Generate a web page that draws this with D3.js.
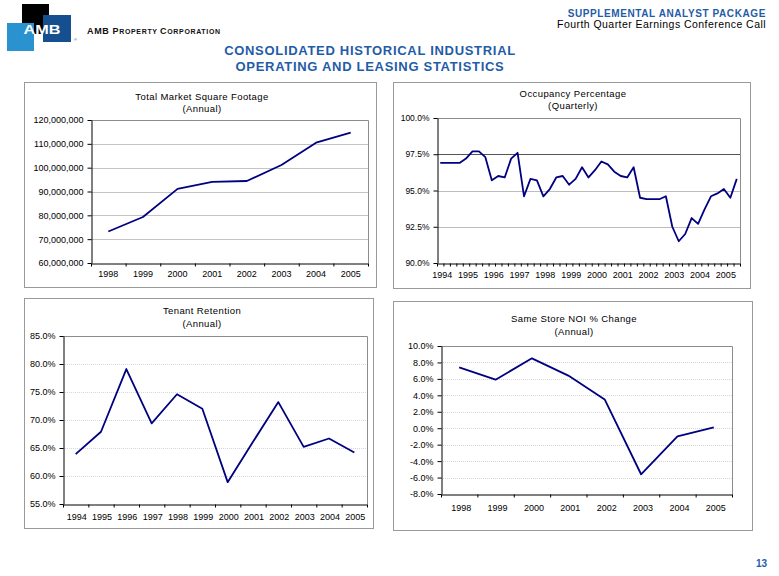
<!DOCTYPE html>
<html>
<head>
<meta charset="utf-8">
<style>
  body { margin: 0; background: #fff; }
  svg { display: block; font-family: "Liberation Sans", Arial, sans-serif; }
</style>
</head>
<body>
<svg width="779" height="576"></svg>
<script src="https://d3js.org/d3.v7.min.js"></script>
<script>

// ---- data ----
var sqftYears = ["1998", "1999", "2000", "2001", "2002", "2003", "2004", "2005"];
var sqftValues = [73200000, 79300000, 91100000, 94000000, 94400000, 101100000, 110500000, 114700000];
var sqftTicks = [60000000, 70000000, 80000000, 90000000, 100000000, 110000000, 120000000];

// quarterly, one label every four quarters
var occYears = ["1994", "1995", "1996", "1997", "1998", "1999", "2000", "2001", "2002", "2003", "2004", "2005"];
var occValues = [96.9, 96.9, 96.9, 96.9, 97.2, 97.7, 97.7, 97.3, 95.7, 96.0, 95.9, 97.2,
                 97.6, 94.6, 95.8, 95.7, 94.6, 95.1, 95.9, 96.0, 95.4, 95.8, 96.6, 95.9,
                 96.4, 97.0, 96.8, 96.3, 96.0, 95.9, 96.6, 94.5, 94.4, 94.4, 94.4, 94.6,
                 92.5, 91.5, 92.0, 93.1, 92.7, 93.7, 94.6, 94.8, 95.1, 94.5, 95.8];
var occTicks = [90, 92.5, 95, 97.5, 100];

var retYears = ["1994", "1995", "1996", "1997", "1998", "1999", "2000", "2001", "2002", "2003", "2004", "2005"];
var retValues = [63.9, 67.9, 79.1, 69.4, 74.6, 72.0, 58.9, 66.1, 73.2, 65.2, 66.7, 64.2];
var retTicks = [55, 60, 65, 70, 75, 80, 85];

var noiYears = ["1998", "1999", "2000", "2001", "2002", "2003", "2004", "2005"];
var noiValues = [7.4, 5.9, 8.5, 6.4, 3.5, -5.6, -1.0, 0.1];
var noiTicks = [-8, -6, -4, -2, 0, 2, 4, 6, 8, 10];

var svg = d3.select("svg");
var blue = "#1f5ca8";
var navy = "#000080";

var pct = function(d) { return d.toFixed(1) + "%"; };

// ---- header ----
svg.append("rect").attr("x", 22).attr("y", 4).attr("width", 27).attr("height", 30).attr("fill", "#000");
svg.append("rect").attr("x", 7).attr("y", 23).attr("width", 27).attr("height", 28).attr("fill", "#2a93cf");
svg.append("rect").attr("x", 43).attr("y", 15).attr("width", 28).attr("height", 27).attr("fill", "#154f8f");
svg.append("text").attr("x", 23.5).attr("y", 33.5).attr("fill", "#fff")
    .attr("font-size", 12).attr("font-weight", "bold")
    .attr("textLength", 37).attr("lengthAdjust", "spacingAndGlyphs").text("AMB");
svg.append("text").attr("x", 74).attr("y", 41).attr("fill", "#154f8f")
    .attr("font-size", 4).text("®");

var corp = svg.append("text").attr("x", 87).attr("y", 34).attr("font-weight", "bold")
    .attr("fill", "#111").attr("letter-spacing", 0.65);
corp.append("tspan").attr("font-size", 9).text("AMB P");
corp.append("tspan").attr("font-size", 7).text("ROPERTY ");
corp.append("tspan").attr("font-size", 9).text("C");
corp.append("tspan").attr("font-size", 7).text("ORPORATION");

svg.append("text").attr("x", 766).attr("y", 16.5).attr("text-anchor", "end")
    .attr("fill", blue).attr("font-size", 10).attr("font-weight", "bold").attr("letter-spacing", 0.6)
    .text("SUPPLEMENTAL ANALYST PACKAGE");
svg.append("text").attr("x", 766).attr("y", 27.5).attr("text-anchor", "end")
    .attr("fill", "#000").attr("font-size", 10.5).attr("letter-spacing", 0.45)
    .text("Fourth Quarter Earnings Conference Call");

svg.append("text").attr("x", 370).attr("y", 54.5).attr("text-anchor", "middle")
    .attr("fill", blue).attr("font-size", 13).attr("font-weight", "bold").attr("letter-spacing", 0.7)
    .text("CONSOLIDATED HISTORICAL INDUSTRIAL");
svg.append("text").attr("x", 370).attr("y", 70.5).attr("text-anchor", "middle")
    .attr("fill", blue).attr("font-size", 13).attr("font-weight", "bold").attr("letter-spacing", 0.7)
    .text("OPERATING AND LEASING STATISTICS");

svg.append("text").attr("x", 767).attr("y", 566.5).attr("text-anchor", "end")
    .attr("fill", blue).attr("font-size", 10).attr("font-weight", "bold").text("13");

// ---- one chart panel ----
function drawChart(o) {
  var g = svg.append("g");

  g.append("rect")
      .attr("x", o.box[0] + 0.5).attr("y", o.box[1] + 0.5)
      .attr("width", o.box[2] - o.box[0]).attr("height", o.box[3] - o.box[1])
      .attr("fill", "none").attr("stroke", "#9a9a9a");

  g.append("text").attr("x", o.titleX).attr("y", o.titleY).attr("text-anchor", "middle")
      .attr("font-size", 9.5).attr("letter-spacing", 0.4).text(o.title);
  g.append("text").attr("x", o.titleX).attr("y", o.titleY + 12.5).attr("text-anchor", "middle")
      .attr("font-size", 9.5).attr("letter-spacing", 0.4).text(o.sub);

  var n = o.values.length;
  var x = d3.scaleBand().domain(d3.range(n)).range([o.left, o.right]).padding(0);
  var xb = d3.scaleLinear().domain([0, n]).range([o.left, o.right]);
  var y = d3.scaleLinear().domain([o.ticks[0], o.ticks[o.ticks.length - 1]]).range([o.bottom, o.top]);

  // gridlines
  g.selectAll(".grid")
    .data(o.ticks.slice(1, -1))
    .enter().append("line")
      .attr("x1", o.left).attr("x2", o.right)
      .attr("y1", function(d) { return Math.round(y(d)) + 0.5; })
      .attr("y2", function(d) { return Math.round(y(d)) + 0.5; })
      .attr("stroke", function(d) { return o.gridColor(d); })
      .attr("stroke-dasharray", o.gridDash);

  // plot frame (top and right)
  g.append("path")
      .attr("d", "M" + o.left + "," + (o.top + 0.5) + "H" + (o.right + 0.5) + "V" + o.bottom)
      .attr("fill", "none").attr("stroke", "#8c8c8c");

  // y axis
  var ya = g.append("g")
      .attr("transform", "translate(" + (o.left + 0.5) + ",0)")
      .call(d3.axisLeft(y).tickValues(o.ticks).tickFormat(o.fmt).tickSize(4).tickPadding(4).tickSizeOuter(0));
  ya.selectAll("text").attr("font-size", o.yFont).attr("fill", "#000").attr("font-family", null);
  ya.selectAll("line, path").attr("stroke", "#000");

  // x axis: ticks between categories
  var xa = g.append("g")
      .attr("transform", "translate(0," + (o.bottom + 0.5) + ")")
      .call(d3.axisBottom(xb).tickValues(d3.range(n + 1)).tickFormat("").tickSize(3).tickSizeOuter(0));
  xa.selectAll("line, path").attr("stroke", "#000");

  g.selectAll(".xl")
    .data(o.labels)
    .enter().append("text")
      .attr("x", function(d, i) { return x(i * o.labelStep) + x.bandwidth() / 2 + o.labelShift; })
      .attr("y", o.labelY)
      .attr("text-anchor", "middle")
      .attr("font-size", 9)
      .text(function(d) { return d; });

  var line = d3.line()
      .x(function(d, i) { return x(i) + x.bandwidth() / 2; })
      .y(function(d) { return y(d); });

  g.append("path")
      .datum(o.values)
      .attr("d", line)
      .attr("fill", "none")
      .attr("stroke", navy)
      .attr("stroke-width", 1.8)
      .attr("stroke-linejoin", "round");
}

drawChart({
  box: [24, 82, 376, 287],
  title: "Total Market Square Footage", sub: "(Annual)", titleX: 202, titleY: 99.5,
  left: 91, right: 368, top: 120, bottom: 263,
  values: sqftValues, labels: sqftYears, labelStep: 1, labelShift: 0, labelY: 277,
  ticks: sqftTicks, fmt: d3.format(","), yFont: 9,
  gridColor: function() { return "#c4c4c4"; }, gridDash: null
});

drawChart({
  box: [393, 82, 750, 288],
  title: "Occupancy Percentage", sub: "(Quarterly)", titleX: 573, titleY: 96.5,
  left: 437, right: 740, top: 118, bottom: 263,
  values: occValues, labels: occYears, labelStep: 4, labelShift: 2, labelY: 277.5,
  ticks: occTicks, fmt: pct, yFont: 8.5,
  gridColor: function(d) { return d === 97.5 ? "#555" : "#bdbdbd"; }, gridDash: null
});

drawChart({
  box: [24, 298, 373, 528],
  title: "Tenant Retention", sub: "(Annual)", titleX: 202, titleY: 314,
  left: 63, right: 367, top: 336, bottom: 504,
  values: retValues, labels: retYears, labelStep: 1, labelShift: 1, labelY: 520,
  ticks: retTicks, fmt: pct, yFont: 9,
  gridColor: function() { return "#d6d6d6"; }, gridDash: "1,1"
});

drawChart({
  box: [393, 301, 752, 530],
  title: "Same Store NOI % Change", sub: "(Annual)", titleX: 574, titleY: 322,
  left: 441, right: 732, top: 346, bottom: 494,
  values: noiValues, labels: noiYears, labelStep: 1, labelShift: 2, labelY: 511,
  ticks: noiTicks, fmt: pct, yFont: 9,
  gridColor: function() { return "#d6d6d6"; }, gridDash: "1,1"
});
</script>
</body>
</html>
